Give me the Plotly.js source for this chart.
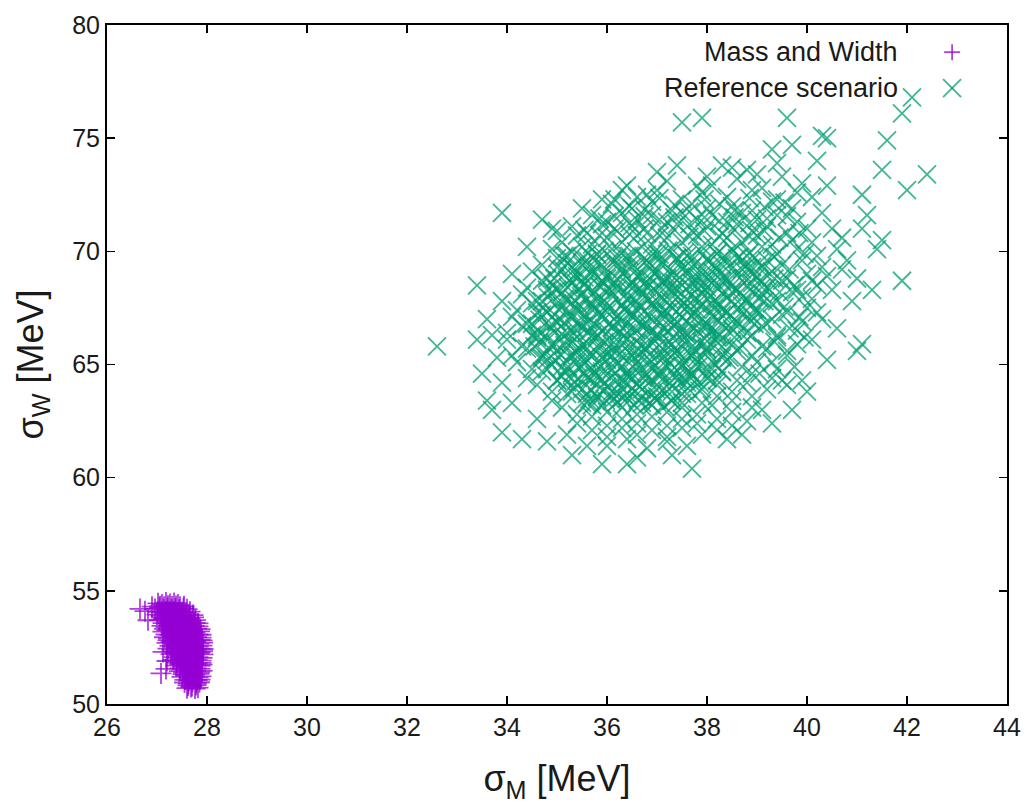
<!DOCTYPE html>
<html>
<head>
<meta charset="utf-8">
<script src="https://cdn.plot.ly/plotly-3.0.1.min.js"></script>
<style>html,body{margin:0;padding:0;background:#fff;}#chart{width:1030px;height:805px;}</style>
</head>
<body>
<div id="chart"></div>
<script>
// Series names
const seriesNames = ["Mass and Width", "Reference scenario"];

// "Mass and Width" points [sigma_M, sigma_W] in MeV
const massPairs = [
[27.02,54.45],[27.1,54.4],[27.18,54.48],[27.26,54.42],[27.34,54.46],[27.42,54.4],
[26.96,54.2],[27.05,54.25],[27.13,54.18],[27.21,54.24],[27.29,54.17],[27.37,54.22],[27.45,54.16],[27.53,54.23],[27.6,54.19],
[27.0,53.95],[27.08,53.9],[27.16,53.98],[27.24,53.92],[27.32,53.97],[27.4,53.91],[27.48,53.96],[27.56,53.9],[27.64,53.95],[27.72,53.93],
[27.05,53.7],[27.13,53.75],[27.21,53.67],[27.29,53.73],[27.37,53.66],[27.45,53.72],[27.53,53.68],[27.61,53.74],[27.69,53.67],[27.77,53.71],
[27.1,53.45],[27.18,53.4],[27.26,53.48],[27.34,53.42],[27.42,53.47],[27.5,53.41],[27.58,53.46],[27.66,53.4],[27.74,53.45],[27.82,53.43],
[27.12,53.2],[27.2,53.25],[27.28,53.17],[27.36,53.23],[27.44,53.16],[27.52,53.22],[27.6,53.18],[27.68,53.24],[27.76,53.17],[27.85,53.21],
[27.15,52.95],[27.23,52.9],[27.31,52.98],[27.39,52.92],[27.47,52.97],[27.55,52.91],[27.63,52.96],[27.71,52.9],[27.79,52.95],[27.88,52.93],
[27.2,52.7],[27.28,52.75],[27.36,52.67],[27.44,52.73],[27.52,52.66],[27.6,52.72],[27.68,52.68],[27.76,52.74],[27.84,52.67],[27.91,52.71],
[27.22,52.45],[27.3,52.4],[27.38,52.48],[27.46,52.42],[27.54,52.47],[27.62,52.41],[27.7,52.46],[27.78,52.4],[27.86,52.45],[27.92,52.43],
[27.28,52.2],[27.36,52.25],[27.44,52.17],[27.52,52.23],[27.6,52.16],[27.68,52.22],[27.76,52.18],[27.84,52.24],[27.92,52.19],
[27.32,51.95],[27.4,51.9],[27.48,51.98],[27.56,51.92],[27.64,51.97],[27.72,51.91],[27.8,51.96],[27.88,51.92],
[27.38,51.7],[27.46,51.75],[27.54,51.67],[27.62,51.73],[27.7,51.66],[27.78,51.72],[27.86,51.69],[27.9,51.74],
[27.45,51.45],[27.53,51.4],[27.61,51.48],[27.69,51.42],[27.77,51.47],[27.85,51.41],[27.9,51.46],
[27.5,51.2],[27.58,51.25],[27.66,51.17],[27.74,51.23],[27.82,51.18],[27.88,51.22],
[27.55,50.95],[27.63,50.9],[27.71,50.98],[27.79,50.92],[27.85,50.96],
[27.6,50.7],[27.68,50.75],[27.76,50.68],[27.82,50.72],
[27.06,54.32],[27.14,54.3],[27.22,54.34],[27.3,54.31],[27.38,54.33],[27.46,54.3],[27.54,54.32],
[27.02,54.07],[27.1,54.05],[27.18,54.09],[27.26,54.06],[27.34,54.08],[27.42,54.05],[27.5,54.07],[27.58,54.04],[27.66,54.08],
[27.09,53.82],[27.17,53.8],[27.25,53.84],[27.33,53.81],[27.41,53.83],[27.49,53.8],[27.57,53.82],[27.65,53.79],[27.73,53.83],
[27.12,53.57],[27.2,53.55],[27.28,53.59],[27.36,53.56],[27.44,53.58],[27.52,53.55],[27.6,53.57],[27.68,53.54],[27.76,53.58],[27.82,53.56],
[27.15,53.32],[27.23,53.3],[27.31,53.34],[27.39,53.31],[27.47,53.33],[27.55,53.3],[27.63,53.32],[27.71,53.29],[27.79,53.33],[27.86,53.31],
[27.18,53.07],[27.26,53.05],[27.34,53.09],[27.42,53.06],[27.5,53.08],[27.58,53.05],[27.66,53.07],[27.74,53.04],[27.82,53.08],[27.88,53.06],
[27.22,52.82],[27.3,52.8],[27.38,52.84],[27.46,52.81],[27.54,52.83],[27.62,52.8],[27.7,52.82],[27.78,52.79],[27.86,52.83],[27.9,52.81],
[27.26,52.57],[27.34,52.55],[27.42,52.59],[27.5,52.56],[27.58,52.58],[27.66,52.55],[27.74,52.57],[27.82,52.54],[27.9,52.58],
[27.3,52.32],[27.38,52.3],[27.46,52.34],[27.54,52.31],[27.62,52.33],[27.7,52.3],[27.78,52.32],[27.86,52.29],[27.91,52.33],
[27.34,52.07],[27.42,52.05],[27.5,52.09],[27.58,52.06],[27.66,52.08],[27.74,52.05],[27.82,52.07],[27.9,52.04],
[27.4,51.82],[27.48,51.8],[27.56,51.84],[27.64,51.81],[27.72,51.83],[27.8,51.8],[27.88,51.82],
[27.46,51.57],[27.54,51.55],[27.62,51.59],[27.7,51.56],[27.78,51.58],[27.86,51.55],
[27.52,51.32],[27.6,51.3],[27.68,51.34],[27.76,51.31],[27.84,51.33],
[27.56,51.07],[27.64,51.05],[27.72,51.09],[27.8,51.06],[27.86,51.08],
[27.62,50.82],[27.7,50.8],[27.78,50.84],
[26.66,54.2],[26.76,54.1],[26.82,53.7],[26.9,54.3],[27.08,51.35],[27.18,51.55],[27.12,52.3],[27.2,51.9]
];

// "Reference scenario" points [sigma_M, sigma_W] in MeV
const refPairs = [
[37.2,73.1],[38.1,72.9],[38.6,73.2],[39.1,72.8],[39.5,73.3],
[36.6,72.4],[37.0,72.7],[37.5,72.3],[37.9,72.6],[38.4,72.4],[38.9,72.7],[39.4,72.3],[39.8,72.6],
[36.1,72.1],[36.5,71.9],[36.9,72.2],[37.3,71.8],[37.7,72.1],[38.0,71.9],[38.5,72.0],[38.9,71.8],[39.3,72.2],[39.7,71.9],
[35.7,71.6],[36.0,71.3],[36.3,71.7],[36.6,71.4],[36.9,71.6],[37.2,71.3],[37.5,71.7],[37.8,71.4],[38.1,71.6],[38.4,71.3],[38.7,71.7],[39.0,71.4],[39.4,71.6],[39.8,71.3],
[35.3,71.1],[35.6,70.8],[35.9,71.2],[36.2,70.9],[36.5,71.1],[36.8,70.8],[37.1,71.0],[37.4,71.2],[37.7,70.9],[38.0,71.1],[38.3,70.8],[38.6,71.2],[38.9,70.9],[39.2,71.1],[39.6,70.8],[40.0,71.0],
[35.1,70.4],[35.4,70.7],[35.7,70.3],[36.0,70.6],[36.3,70.4],[36.6,70.7],[36.9,70.3],[37.2,70.6],[37.5,70.4],[37.8,70.7],[38.1,70.3],[38.4,70.6],[38.7,70.4],[39.0,70.7],[39.3,70.3],[39.7,70.5],[40.1,70.4],
[34.9,70.1],[35.2,69.8],[35.5,70.2],[35.8,69.9],[36.1,70.1],[36.4,69.8],[36.7,70.2],[37.0,69.9],[37.3,70.1],[37.6,69.8],[37.9,70.2],[38.2,69.9],[38.5,70.1],[38.8,69.8],[39.1,70.2],[39.4,69.9],[39.8,70.1],[40.2,69.8],
[34.7,69.4],[35.0,69.7],[35.3,69.3],[35.6,69.6],[35.9,69.4],[36.2,69.7],[36.5,69.3],[36.8,69.6],[37.1,69.4],[37.4,69.7],[37.7,69.3],[38.0,69.6],[38.3,69.4],[38.6,69.7],[38.9,69.3],[39.2,69.6],[39.5,69.4],[39.9,69.6],[40.3,69.3],
[34.5,69.1],[34.8,68.8],[35.1,69.2],[35.4,68.9],[35.7,69.1],[36.0,68.8],[36.3,69.2],[36.6,68.9],[36.9,69.1],[37.2,68.8],[37.5,69.2],[37.8,68.9],[38.1,69.1],[38.4,68.8],[38.7,69.2],[39.0,68.9],[39.3,69.1],[39.6,68.8],[40.0,69.0],[40.4,68.9],
[34.4,68.4],[34.7,68.7],[35.0,68.3],[35.3,68.6],[35.6,68.4],[35.9,68.7],[36.2,68.3],[36.5,68.6],[36.8,68.4],[37.1,68.7],[37.4,68.3],[37.7,68.6],[38.0,68.4],[38.3,68.7],[38.6,68.3],[38.9,68.6],[39.2,68.4],[39.5,68.7],[39.8,68.3],[40.2,68.5],
[34.3,68.1],[34.6,67.8],[34.9,68.2],[35.2,67.9],[35.5,68.1],[35.8,67.8],[36.1,68.2],[36.4,67.9],[36.7,68.1],[37.0,67.8],[37.3,68.2],[37.6,67.9],[37.9,68.1],[38.2,67.8],[38.5,68.2],[38.8,67.9],[39.1,68.1],[39.4,67.8],[39.7,68.2],[40.1,67.9],
[34.2,67.4],[34.5,67.7],[34.8,67.3],[35.1,67.6],[35.4,67.4],[35.7,67.7],[36.0,67.3],[36.3,67.6],[36.6,67.4],[36.9,67.7],[37.2,67.3],[37.5,67.6],[37.8,67.4],[38.1,67.7],[38.4,67.3],[38.7,67.6],[39.0,67.4],[39.3,67.7],[39.6,67.3],[40.0,67.5],
[34.1,67.1],[34.4,66.8],[34.7,67.2],[35.0,66.9],[35.3,67.1],[35.6,66.8],[35.9,67.2],[36.2,66.9],[36.5,67.1],[36.8,66.8],[37.1,67.2],[37.4,66.9],[37.7,67.1],[38.0,66.8],[38.3,67.2],[38.6,66.9],[38.9,67.1],[39.2,66.8],[39.5,67.2],[39.9,66.9],
[34.0,66.4],[34.3,66.7],[34.6,66.3],[34.9,66.6],[35.2,66.4],[35.5,66.7],[35.8,66.3],[36.1,66.6],[36.4,66.4],[36.7,66.7],[37.0,66.3],[37.3,66.6],[37.6,66.4],[37.9,66.7],[38.2,66.3],[38.5,66.6],[38.8,66.4],[39.1,66.7],[39.4,66.3],[39.8,66.5],
[34.0,66.1],[34.3,65.8],[34.6,66.2],[34.9,65.9],[35.2,66.1],[35.5,65.8],[35.8,66.2],[36.1,65.9],[36.4,66.1],[36.7,65.8],[37.0,66.2],[37.3,65.9],[37.6,66.1],[37.9,65.8],[38.2,66.2],[38.5,65.9],[38.8,66.1],[39.1,65.8],[39.4,66.2],[39.8,65.9],
[34.1,65.4],[34.4,65.7],[34.7,65.3],[35.0,65.6],[35.3,65.4],[35.6,65.7],[35.9,65.3],[36.2,65.6],[36.5,65.4],[36.8,65.7],[37.1,65.3],[37.4,65.6],[37.7,65.4],[38.0,65.7],[38.3,65.3],[38.6,65.6],[38.9,65.4],[39.2,65.7],[39.6,65.4],
[34.2,65.1],[34.5,64.8],[34.8,65.2],[35.1,64.9],[35.4,65.1],[35.7,64.8],[36.0,65.2],[36.3,64.9],[36.6,65.1],[36.9,64.8],[37.2,65.2],[37.5,64.9],[37.8,65.1],[38.1,64.8],[38.4,65.2],[38.7,64.9],[39.0,65.1],[39.4,64.8],
[34.4,64.4],[34.7,64.7],[35.0,64.3],[35.3,64.6],[35.6,64.4],[35.9,64.7],[36.2,64.3],[36.5,64.6],[36.8,64.4],[37.1,64.7],[37.4,64.3],[37.7,64.6],[38.0,64.4],[38.3,64.7],[38.6,64.3],[38.9,64.6],[39.3,64.4],
[34.6,64.1],[34.9,63.8],[35.2,64.2],[35.5,63.9],[35.8,64.1],[36.1,63.8],[36.4,64.2],[36.7,63.9],[37.0,64.1],[37.3,63.8],[37.6,64.2],[37.9,63.9],[38.2,64.1],[38.5,63.8],[38.8,64.2],[39.2,63.9],
[34.9,63.4],[35.2,63.7],[35.5,63.3],[35.8,63.6],[36.1,63.4],[36.4,63.7],[36.7,63.3],[37.0,63.6],[37.3,63.4],[37.6,63.7],[37.9,63.3],[38.2,63.6],[38.5,63.4],[38.9,63.6],
[35.1,63.1],[35.4,62.8],[35.7,63.2],[36.0,62.9],[36.3,63.1],[36.6,62.8],[36.9,63.2],[37.2,62.9],[37.5,63.1],[37.8,62.8],[38.1,63.2],[38.5,62.9],[38.9,63.1],
[35.4,62.4],[35.7,62.7],[36.0,62.3],[36.3,62.6],[36.6,62.4],[36.9,62.7],[37.2,62.3],[37.5,62.6],[37.8,62.4],[38.2,62.6],[38.5,62.3],
[35.7,62.1],[36.0,61.8],[36.3,62.2],[36.6,61.9],[36.9,62.1],[37.2,61.8],[37.5,62.2],[37.9,61.9],
[36.0,61.4],[36.4,61.7],[36.8,61.3],[37.2,61.6],[37.6,61.4],
[35.15,69.8],[35.5,69.7],[35.8,69.85],[36.1,69.65],[36.45,69.8],[36.75,69.7],[37.05,69.85],[37.4,69.7],[37.7,69.8],[38.0,69.65],[38.35,69.8],[38.65,69.75],[38.95,69.7],
[35.0,69.3],[35.35,69.2],[35.65,69.35],[35.95,69.15],[36.3,69.3],[36.6,69.2],[36.9,69.35],[37.25,69.2],[37.55,69.3],[37.85,69.15],[38.2,69.3],[38.5,69.25],[38.8,69.2],[39.1,69.3],
[34.95,68.8],[35.25,68.7],[35.55,68.85],[35.9,68.7],[36.2,68.8],[36.5,68.65],[36.85,68.8],[37.15,68.7],[37.45,68.85],[37.8,68.7],[38.1,68.8],[38.4,68.65],[38.75,68.8],[39.05,68.7],[39.35,68.8],
[34.8,68.3],[35.1,68.2],[35.45,68.35],[35.75,68.2],[36.05,68.3],[36.4,68.15],[36.7,68.3],[37.0,68.2],[37.35,68.35],[37.65,68.2],[37.95,68.3],[38.3,68.15],[38.6,68.3],[38.9,68.2],[39.25,68.3],
[34.7,67.8],[35.0,67.7],[35.35,67.85],[35.65,67.7],[35.95,67.8],[36.3,67.65],[36.6,67.8],[36.9,67.7],[37.25,67.85],[37.55,67.7],[37.85,67.8],[38.2,67.65],[38.5,67.8],[38.8,67.7],[39.15,67.8],
[34.6,67.3],[34.95,67.2],[35.25,67.35],[35.55,67.2],[35.85,67.3],[36.2,67.15],[36.5,67.3],[36.8,67.2],[37.15,67.35],[37.45,67.2],[37.75,67.3],[38.1,67.15],[38.4,67.3],[38.7,67.2],[39.05,67.3],
[34.5,66.8],[34.85,66.7],[35.15,66.85],[35.45,66.7],[35.75,66.8],[36.1,66.65],[36.4,66.8],[36.7,66.7],[37.05,66.85],[37.35,66.7],[37.65,66.8],[38.0,66.65],[38.3,66.8],[38.6,66.7],[38.95,66.8],
[34.5,66.3],[34.8,66.2],[35.1,66.35],[35.4,66.2],[35.7,66.3],[36.05,66.15],[36.35,66.3],[36.65,66.2],[37.0,66.35],[37.3,66.2],[37.6,66.3],[37.95,66.15],[38.25,66.3],[38.55,66.2],[38.9,66.3],
[34.55,65.8],[34.85,65.7],[35.15,65.85],[35.45,65.7],[35.8,65.8],[36.1,65.65],[36.4,65.8],[36.75,65.7],[37.05,65.85],[37.35,65.7],[37.7,65.8],[38.0,65.65],[38.3,65.8],[38.65,65.7],
[34.65,65.3],[34.95,65.2],[35.25,65.35],[35.6,65.2],[35.9,65.3],[36.2,65.15],[36.55,65.3],[36.85,65.2],[37.15,65.35],[37.5,65.2],[37.8,65.3],[38.1,65.15],[38.45,65.3],
[34.8,64.8],[35.15,64.7],[35.45,64.85],[35.75,64.7],[36.1,64.8],[36.4,64.65],[36.7,64.8],[37.05,64.7],[37.35,64.85],[37.65,64.7],[38.0,64.8],[38.3,64.65],
[35.0,64.3],[35.35,64.2],[35.65,64.35],[35.95,64.2],[36.3,64.3],[36.6,64.15],[36.9,64.3],[37.25,64.2],[37.55,64.35],[37.85,64.2],[38.2,64.3],
[35.3,63.8],[35.6,63.7],[35.95,63.85],[36.25,63.7],[36.55,63.8],[36.9,63.65],[37.2,63.8],[37.5,63.7],[37.85,63.85],
[35.6,63.3],[35.9,63.2],[36.2,63.35],[36.55,63.2],[36.85,63.3],[37.15,63.15],[37.5,63.3],
[35.3,69.98],[35.62,69.9],[35.95,70.02],[36.28,69.92],[36.58,70.0],[36.92,69.9],[37.22,70.03],[37.55,69.93],[37.88,70.0],[38.2,69.9],[38.52,70.02],[38.85,69.94],
[35.2,69.48],[35.5,69.4],[35.82,69.52],[36.15,69.42],[36.48,69.5],[36.8,69.4],[37.12,69.53],[37.45,69.43],[37.78,69.5],[38.1,69.4],[38.42,69.52],[38.75,69.44],[39.05,69.5],
[35.02,68.98],[35.33,68.9],[35.68,69.02],[36.0,68.92],[36.32,69.0],[36.65,68.9],[36.98,69.03],[37.3,68.93],[37.62,69.0],[37.95,68.9],[38.28,69.02],[38.6,68.94],[38.92,69.0],[39.2,68.92],
[34.92,68.48],[35.22,68.4],[35.55,68.52],[35.88,68.42],[36.2,68.5],[36.52,68.4],[36.85,68.53],[37.18,68.43],[37.5,68.5],[37.82,68.4],[38.15,68.52],[38.48,68.44],[38.8,68.5],[39.1,68.42],
[34.82,67.98],[35.15,67.9],[35.48,68.02],[35.8,67.92],[36.12,68.0],[36.45,67.9],[36.78,68.03],[37.1,67.93],[37.42,68.0],[37.75,67.9],[38.08,68.02],[38.4,67.94],[38.72,68.0],[39.05,67.92],
[34.72,67.48],[35.05,67.4],[35.38,67.52],[35.7,67.42],[36.02,67.5],[36.35,67.4],[36.68,67.53],[37.0,67.43],[37.32,67.5],[37.65,67.4],[37.98,67.52],[38.3,67.44],[38.62,67.5],[38.95,67.42],
[34.65,66.98],[34.98,66.9],[35.3,67.02],[35.62,66.92],[35.95,67.0],[36.28,66.9],[36.6,67.03],[36.92,66.93],[37.25,67.0],[37.58,66.9],[37.9,67.02],[38.22,66.94],[38.55,67.0],[38.88,66.92],
[34.62,66.48],[34.95,66.4],[35.28,66.52],[35.6,66.42],[35.92,66.5],[36.25,66.4],[36.58,66.53],[36.9,66.43],[37.22,66.5],[37.55,66.4],[37.88,66.52],[38.2,66.44],[38.52,66.5],
[34.65,65.98],[34.98,65.9],[35.3,66.02],[35.62,65.92],[35.95,66.0],[36.28,65.9],[36.6,66.03],[36.92,65.93],[37.25,66.0],[37.58,65.9],[37.9,66.02],[38.22,65.94],
[34.75,65.48],[35.08,65.4],[35.4,65.52],[35.72,65.42],[36.05,65.5],[36.38,65.4],[36.7,65.53],[37.02,65.43],[37.35,65.5],[37.68,65.4],[38.0,65.52],[38.32,65.44],
[34.9,64.98],[35.22,64.9],[35.55,65.02],[35.88,64.92],[36.2,65.0],[36.52,64.9],[36.85,65.03],[37.18,64.93],[37.5,65.0],[37.82,64.9],[38.15,65.02],
[35.1,64.48],[35.42,64.4],[35.75,64.52],[36.08,64.42],[36.4,64.5],[36.72,64.4],[37.05,64.53],[37.38,64.43],[37.7,64.5],[38.02,64.4],
[35.35,63.98],[35.68,63.9],[36.0,64.02],[36.32,63.92],[36.65,64.0],[36.98,63.9],[37.3,64.03],[37.62,63.93],
[35.65,63.48],[35.98,63.4],[36.3,63.52],[36.62,63.42],[36.95,63.5],[37.28,63.4],
[36.15,72.3],[36.45,72.0],[36.75,71.85],[37.05,72.35],[37.35,72.05],[37.65,71.75],[37.95,72.3],[38.25,72.1],[38.55,71.8],[38.85,72.35],[39.15,71.95],[39.55,72.15],
[35.85,71.45],[36.15,71.55],[36.45,71.25],[36.75,71.55],[37.05,71.4],[37.35,71.5],[37.65,71.2],[37.95,71.5],[38.25,71.35],[38.55,71.5],[38.85,71.25],[39.2,71.45],[39.6,71.55],
[35.55,70.95],[35.85,70.7],[36.15,71.0],[36.45,70.75],[36.75,71.0],[37.05,70.7],[37.35,70.95],[37.65,70.65],[37.95,70.9],[38.25,70.65],[38.55,70.95],[38.85,70.65],[39.15,70.9],[39.45,70.6],[39.85,70.8],
[39.35,69.75],[39.65,69.2],[39.95,69.9],[40.1,68.7],[39.75,68.5],[39.45,68.2],[39.9,68.0],[40.2,67.3],[39.55,67.55],[39.85,67.1],
[39.3,67.0],[39.65,66.6],[39.95,66.2],[39.35,66.0],[39.6,65.6],[39.3,65.1],[39.75,64.9],[39.05,64.6],[39.5,64.3],
[35.55,68.6],[35.85,68.45],[36.15,68.6],[36.45,68.45],[36.75,68.6],[37.05,68.45],[37.35,68.6],[37.65,68.45],[37.95,68.6],[38.25,68.45],
[35.45,67.6],[35.75,67.45],[36.05,67.6],[36.35,67.45],[36.65,67.6],[36.95,67.45],[37.25,67.6],[37.55,67.45],[37.85,67.6],[38.15,67.45],
[35.35,66.6],[35.65,66.45],[35.95,66.6],[36.25,66.45],[36.55,66.6],[36.85,66.45],[37.15,66.6],[37.45,66.45],[37.75,66.6],[38.05,66.45],
[35.35,65.6],[35.65,65.45],[35.95,65.6],[36.25,65.45],[36.55,65.6],[36.85,65.45],[37.15,65.6],[37.45,65.45],[37.75,65.6],
[35.55,64.6],[35.85,64.45],[36.15,64.6],[36.45,64.45],[36.75,64.6],[37.05,64.45],[37.35,64.6],[37.65,64.45],
[35.8,63.55],[36.1,63.6],[36.4,63.5],[36.7,63.55],[37.0,63.45],
[38.5,73.7],[39.0,73.4],[39.4,73.9],[38.0,73.3],[37.8,72.9],[39.9,73.0],[40.1,72.4],[40.3,71.7],[40.5,71.0],[40.7,70.6],
[40.8,69.6],[41.0,68.8],[40.6,66.6],[40.4,65.2],[40.0,63.8],[39.3,62.4],[38.7,61.9],[37.3,61.0],[36.6,60.9],[35.6,61.4],
[35.2,61.9],[34.6,62.6],[34.1,63.3],[33.9,64.2],[33.7,66.3],[33.9,67.8],[34.1,69.0],[34.4,70.2],[34.9,71.0],[35.5,71.9],
[35.9,72.3],[36.4,72.9],[37.0,73.5],
[32.6,65.8],[33.4,66.1],[33.9,71.7],[33.4,68.5],[33.6,67.0],[33.6,63.4],[33.7,63.0],[33.9,62.0],[34.3,61.7],[34.7,71.4],
[35.0,70.9],[34.8,61.6],[35.3,61.0],[35.9,60.6],[36.4,60.6],[37.7,60.4],[36.3,72.7],[36.8,72.5],[37.5,75.7],[37.9,75.9],
[37.4,73.8],[38.3,73.8],[38.8,73.6],[39.6,75.9],[39.7,74.7],[39.3,74.5],[40.3,75.1],[40.4,75.0],[40.2,74.0],[40.4,72.9],
[41.6,74.9],[41.5,73.6],[41.9,76.1],[42.1,76.8],[42.0,72.7],[42.4,73.4],[41.9,68.7],[41.1,72.5],[41.2,71.6],[41.1,71.0],
[41.5,70.5],[41.4,70.1],[41.3,68.3],[40.9,67.8],[41.1,65.9],[41.0,65.6],[39.9,64.3],[39.7,63.0],[39.6,64.1],[39.1,63.0],
[38.8,62.5],[38.4,61.7],[38.2,62.1],[40.7,69.2],[40.6,70.1],[40.5,68.3],[40.3,67.0],[40.1,66.1],[33.5,64.6],[33.8,65.3]
];

const massX = massPairs.map(p => p[0]);
const massY = massPairs.map(p => p[1]);
const refX = refPairs.map(p => p[0]);
const refY = refPairs.map(p => p[1]);

const purple = "rgba(148,0,211,0.75)";
const green = "rgba(0,158,115,0.75)";
const fontFam = "Liberation Sans, Arial, sans-serif";

const traces = [
  {x: refX, y: refY, name: seriesNames[1], type: "scatter", mode: "markers",
   marker: {symbol: "x-thin-open", size: 18, color: green, line: {color: green, width: 1.8}}, showlegend: false},
  {x: massX, y: massY, name: seriesNames[0], type: "scatter", mode: "markers",
   marker: {symbol: "cross-thin-open", size: 15, color: purple, line: {color: purple, width: 1.8}}, showlegend: false}
];

const axisCommon = {
  showgrid: false, zeroline: false, showline: true, linecolor: "#000", linewidth: 2,
  mirror: "ticks", ticks: "inside", ticklen: 8, tickwidth: 1.6, tickcolor: "#000",
  tickfont: {family: fontFam, size: 25, color: "#1a1a1a"}, automargin: false
};

const layout = {
  width: 1030, height: 805,
  margin: {l: 107, r: 23, t: 25, b: 101, pad: 0},
  paper_bgcolor: "#fff", plot_bgcolor: "#fff",
  font: {family: fontFam, color: "#1a1a1a"},
  xaxis: Object.assign({}, axisCommon, {range: [26, 44], tick0: 26, dtick: 2,
    title: {text: "σ<sub>M</sub> [MeV]", font: {family: fontFam, size: 36, color: "#1a1a1a"}, standoff: 26}}),
  yaxis: Object.assign({}, axisCommon, {range: [50, 80], tick0: 50, dtick: 5,
    title: {text: "σ<sub>W</sub> [MeV]", font: {family: fontFam, size: 36, color: "#1a1a1a"}, standoff: 18}}),
  annotations: [
    {text: seriesNames[0], xref: "paper", yref: "paper", x: 0.881, y: 0.960, xanchor: "right", yanchor: "middle",
     showarrow: false, font: {family: fontFam, size: 27, color: "#1a1a1a"}},
    {text: seriesNames[1], xref: "paper", yref: "paper", x: 0.881, y: 0.907, xanchor: "right", yanchor: "middle",
     showarrow: false, font: {family: fontFam, size: 27, color: "#1a1a1a"}}
  ],
  shapes: [
    {type: "line", xref: "paper", yref: "paper", xsizemode: "pixel", ysizemode: "pixel", xanchor: 0.939, yanchor: 0.960,
     x0: -8, x1: 8, y0: 0, y1: 0, line: {color: purple, width: 1.8}},
    {type: "line", xref: "paper", yref: "paper", xsizemode: "pixel", ysizemode: "pixel", xanchor: 0.939, yanchor: 0.960,
     x0: 0, x1: 0, y0: -8, y1: 8, line: {color: purple, width: 1.8}},
    {type: "line", xref: "paper", yref: "paper", xsizemode: "pixel", ysizemode: "pixel", xanchor: 0.939, yanchor: 0.907,
     x0: -9, x1: 9, y0: -9, y1: 9, line: {color: green, width: 1.8}},
    {type: "line", xref: "paper", yref: "paper", xsizemode: "pixel", ysizemode: "pixel", xanchor: 0.939, yanchor: 0.907,
     x0: -9, x1: 9, y0: 9, y1: -9, line: {color: green, width: 1.8}}
  ]
};

Plotly.newPlot("chart", traces, layout, {displayModeBar: false, staticPlot: true});
</script>
</body>
</html>
